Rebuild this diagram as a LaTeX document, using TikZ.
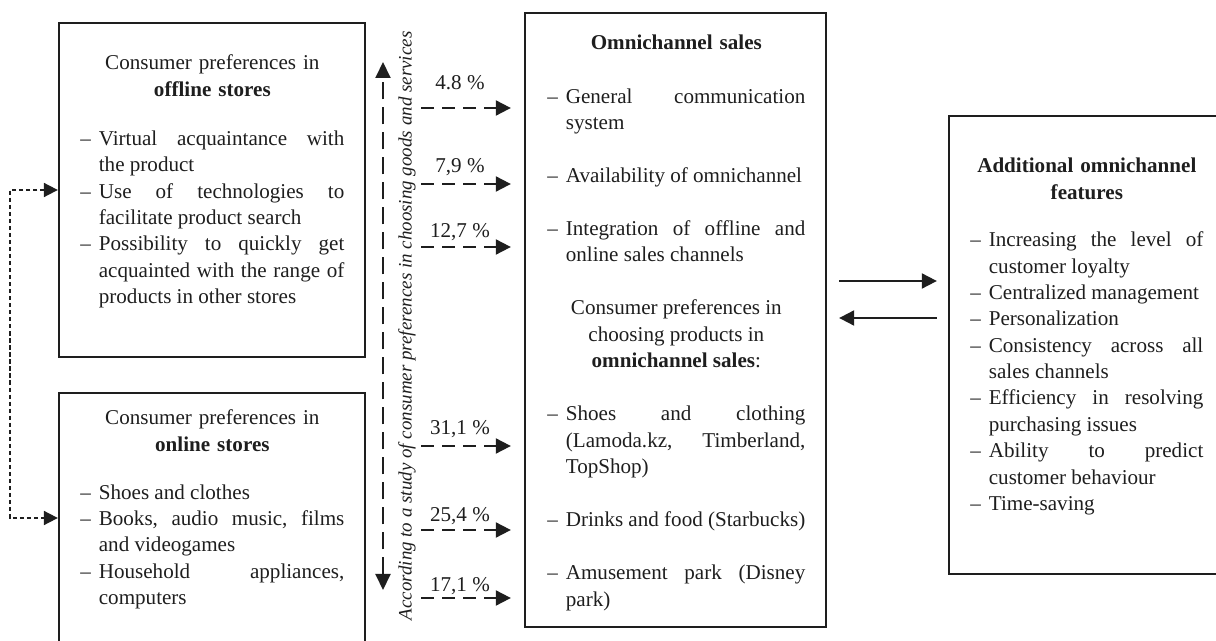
\documentclass[tikz,border=0pt]{standalone}
\usepackage{fontspec}
\setmainfont{Liberation Serif}
\usepackage{tikz}
\usetikzlibrary{arrows.meta,positioning,calc}
\definecolor{ink}{HTML}{1E1E1E}
\newlength{\itmind}
\setlength{\itmind}{0.37cm}
% justified item with hanging dash
\newcommand{\itm}[1]{\par\noindent\leftskip=0pt\rightskip=0pt\parfillskip=0pt plus 1fil\relax
  \hyphenpenalty=10000\frenchspacing\spaceskip=3pt plus 20pt minus 1.2pt\relax
  \hangindent=\itmind\hangafter=1\makebox[\itmind][l]{--}#1\par}

\begin{document}
\begin{tikzpicture}[
  font=\fontsize{12}{15}\selectfont,
  box/.style={draw=ink, line width=1.3pt, inner sep=0pt},
  txt/.style={anchor=base west, inner sep=0pt, text=ink},
  pct/.style={anchor=base, inner sep=0pt, text=ink},
  arrow/.style={-{Triangle[length=0.3cm, width=0.3cm]}, draw=ink, line width=1.1pt},
  pctarrow/.style={arrow, dash pattern=on 0.26cm off 0.16cm, shorten >=0.26cm},
  studyarrow/.style={{Triangle[length=0.32cm, width=0.3cm]}-{Triangle[length=0.32cm, width=0.3cm]}, draw=ink, line width=1.1pt, dash pattern=on 0.34cm off 0.16cm},
  looparrow/.style={{Triangle[length=0.28cm, width=0.28cm]}-{Triangle[length=0.28cm, width=0.28cm]}, draw=ink, line width=1pt, dash pattern=on 2.4pt off 1.6pt}
]
\useasboundingbox (0,0) rectangle (24.32,-12.82);
\clip (0,0) rectangle (24.32,-12.82);

% boxes
\node[box, minimum width=6.12cm, minimum height=6.68cm] (offline) at (4.24,-3.80) {};
\node[box, minimum width=6.12cm, minimum height=5.00cm] (online) at (4.24,-10.36) {};
\node[box, minimum width=6.02cm, minimum height=12.28cm] (omni) at (13.51,-6.40) {};
\node[box, minimum width=5.62cm, minimum height=9.16cm] (addf) at (21.79,-6.90) {};

% box texts
\node[txt, text width=5.28cm] (offtxt) at (1.60,-1.40)
{{\centering Consumer preferences in\\\textbf{offline stores}\par}
\vspace{13pt}
\itm{Virtual acquaintance with\linebreak the product}
\itm{Use of technologies to\linebreak facilitate product search}
\itm{Possibility to quickly get\linebreak acquainted with the range of\linebreak products in other stores}};

\node[txt, text width=5.28cm] (ontxt) at (1.60,-8.50)
{{\centering Consumer preferences in\\\textbf{online stores}\par}
\vspace{12.2pt}
\itm{Shoes and clothes}
\itm{Books, audio music, films\linebreak and videogames}
\itm{Household appliances,\linebreak computers}};

\node[txt, text width=5.16cm] (omtxt) at (10.94,-1.00)
{{\centering\textbf{Omnichannel sales}\par}
\vspace{15.2pt}
\itm{General communication\linebreak system}
\vspace{15.2pt}
\itm{Availability of omnichannel}
\vspace{15.2pt}
\itm{Integration of offline and\linebreak online sales channels}
\vspace{15.2pt}
{\centering Consumer preferences in\\choosing products in\\\textbf{omnichannel sales}:\par}
\vspace{15.2pt}
\itm{Shoes and clothing\linebreak (Lamoda.kz, Timberland,\linebreak TopShop)}
\vspace{15.2pt}
\itm{Drinks and food (Starbucks)}
\vspace{15.2pt}
\itm{Amusement park (Disney\linebreak park)}};

\node[txt, text width=4.66cm] (adtxt) at (19.40,-3.46)
{{\centering\textbf{Additional omnichannel\\features}\par}
\vspace{12pt}
\itm{Increasing the level of\linebreak customer loyalty}
\itm{Centralized management}
\itm{Personalization}
\itm{Consistency across all\linebreak sales channels}
\itm{Efficiency in resolving\linebreak purchasing issues}
\itm{Ability to predict\linebreak customer behaviour}
\itm{Time-saving}};

% study axis
\node[rotate=90, inner sep=0pt, text=ink, font=\fontsize{10.8}{13}\selectfont\itshape] (study) at (8.14,-6.52)
{According to a study of consumer preferences in choosing goods and services};
\coordinate (studytop) at (7.66,-1.24);
\coordinate (studybot) at (7.66,-11.80);
\draw[studyarrow] (studybot) -- (studytop);

% shares
\foreach \i/\y/\ly/\lab in {1/-2.16/-1.80/{4.8 \%}, 2/-3.68/-3.46/{7,9 \%}, 3/-4.94/-4.76/{12,7 \%},
  4/-8.92/-8.70/{31,1 \%}, 5/-10.60/-10.42/{25,4 \%}, 6/-11.96/-11.84/{17,1 \%}}{
  \coordinate (s\i) at (8.42,\y);
  \node[pct] (p\i) at (9.20,\ly) {\lab};
  \draw[pctarrow] (s\i) -- (omni.west |- s\i);
}

% links
\draw[looparrow] (offline.west) -- ++(-0.96,0) |- (online.west);
\coordinate (fwd) at (17.76,-5.62);
\coordinate (bwd) at (17.76,-6.36);
\draw[arrow, shorten <=0.24cm, shorten >=0.22cm] (omni.east |- fwd) -- (addf.west |- fwd);
\draw[arrow, shorten <=0.22cm, shorten >=0.24cm] (addf.west |- bwd) -- (omni.east |- bwd);

\end{tikzpicture}
\end{document}
